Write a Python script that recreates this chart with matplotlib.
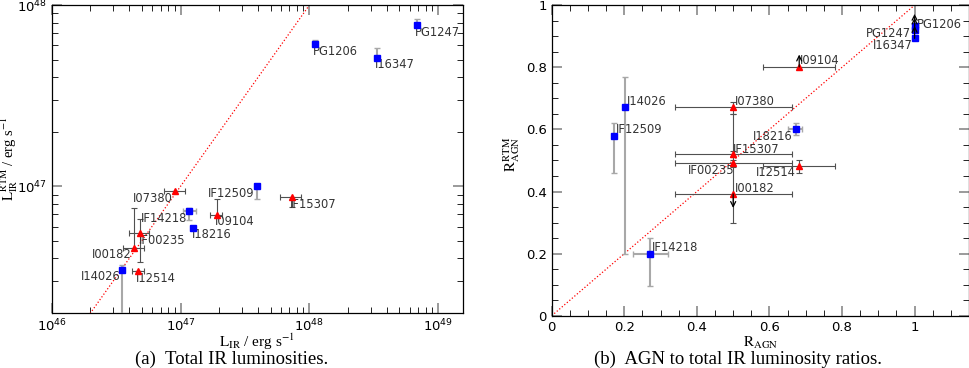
import numpy as np
import matplotlib
matplotlib.use("Agg")
import matplotlib.pyplot as plt
from matplotlib.ticker import LogLocator, MultipleLocator, FuncFormatter

plt.rcParams['mathtext.fontset'] = 'stix'
plt.rcParams['font.family'] = ['DejaVu Sans']

# (a) total IR luminosities, QSO sample (blue squares)
names_qa = ['PG1247', 'PG1206', 'I16347', 'IF12509', 'IF14218', 'I18216', 'I14026']
lir_q = np.array([6.86e48, 1.11e48, 3.35e48, 3.91e47, 1.17e47, 1.26e47, 3.53e46])
lir_q_lo = np.array([6.86e48, 1.11e48, 3.35e48, 3.91e47, 1.05e47, 1.26e47, 3.53e46])
lir_q_hi = np.array([6.86e48, 1.11e48, 3.35e48, 3.91e47, 1.31e47, 1.26e47, 3.53e46])
lrtm_q = np.array([7.76e47, 6.07e47, 5.14e47, 1.0e47, 7.28e46, 5.89e46, 3.47e46])
lrtm_q_lo = np.array([7.76e47, 6.07e47, 5.14e47, 8.47e46, 6.49e46, 5.89e46, 1.5e46])
lrtm_q_hi = np.array([8.34e47, 6.46e47, 5.77e47, 1.02e47, 7.62e46, 5.89e46, 3.66e46])
side_qa = ['l', 'l', 'l', 'r', 'r', 'l', 'r']

# (a) ULIRG sample (red triangles)
names_ua = ['IF15307', 'I07380', 'I09104', 'IF00235', 'I00182', 'I12514']
lir_u = np.array([7.28e47, 9.08e46, 1.91e47, 4.88e46, 4.33e46, 4.66e46])
lir_u_lo = np.array([5.94e47, 7.5e46, 1.69e47, 3.98e46, 3.57e46, 4.2e46])
lir_u_hi = np.array([8.61e47, 1.074e47, 2.11e47, 5.73e46, 5.18e46, 5.18e46])
lrtm_u = np.array([8.73e46, 9.38e46, 6.97e46, 5.52e46, 4.58e46, 3.40e46])
lrtm_u_lo = np.array([7.69e46, 9.38e46, 6.97e46, 3.82e46, 4.58e46, 3.40e46])
lrtm_u_hi = np.array([8.73e46, 9.38e46, 8.47e46, 6.58e46, 7.62e46, 3.40e46])
side_ua = ['l', 'r', 'l', 'l', 'r', 'l']

# (b) AGN fractions, QSO sample
names_qb = ['PG1206', 'PG1247', 'I16347', 'I14026', 'IF12509', 'I18216', 'IF14218']
ragn_q = np.array([1.0, 1.0, 1.0, 0.202, 0.172, 0.672, 0.272])
ragn_q_lo = np.array([1.0, 1.0, 1.0, 0.202, 0.172, 0.651, 0.223])
ragn_q_hi = np.array([1.0, 1.0, 1.0, 0.202, 0.172, 0.690, 0.321])
rrtm_q = np.array([0.932, 0.920, 0.893, 0.671, 0.580, 0.600, 0.199])
rrtm_q_lo = np.array([0.932, 0.920, 0.893, 0.20, 0.46, 0.582, 0.097])
rrtm_q_hi = np.array([0.932, 0.920, 0.893, 0.769, 0.621, 0.621, 0.249])
lim_qb = ['up', 'up', 'up', '', '', '', '']

# (b) ULIRG sample
names_ub = ['I09104', 'I07380', 'IF15307', 'IF00235', 'I12514', 'I00182']
ragn_u = np.array([0.682, 0.5, 0.5, 0.5, 0.682, 0.5])
ragn_u_lo = np.array([0.583, 0.341, 0.341, 0.341, 0.583, 0.341])
ragn_u_hi = np.array([0.782, 0.661, 0.661, 0.661, 0.782, 0.661])
rrtm_u = np.array([0.801, 0.672, 0.520, 0.491, 0.483, 0.392])
rrtm_u_lo = np.array([0.801, 0.651, 0.51, 0.48, 0.458, 0.30])
rrtm_u_hi = np.array([0.801, 0.689, 0.53, 0.50, 0.50, 0.65])
lim_ub = ['up', '', '', '', '', 'down']

# label placement (pixels) for panel b
off_qb = [(2, 2, 'left'), (-4, -4, 'right'), (-2, -7, 'right'), (2, 6, 'left'),
          (2, 6, 'left'), (-3, -7, 'right'), (1, 6, 'left')]
off_ub = [(1, 6, 'left'), (2, 6, 'left'), (0, 5, 'left'), (1, -7, 'right'),
          (-3, -7, 'right'), (2, 5, 'left')]

LIGHT = '#a8a8a8'
DARK = '#505050'


def errs(v, lo, hi):
    return np.vstack([v - lo, hi - v])


def style_ticks(ax):
    ax.tick_params(which='both', direction='in', top=True, right=True, labelsize=9.5)
    ax.tick_params(which='major', length=7, width=1.4, color='#9a9a9a')
    ax.tick_params(which='minor', length=4, width=0.6, color='k')
    for s in ax.spines.values():
        s.set_linewidth(0.9)


fig = plt.figure(figsize=(9.7, 3.68), dpi=100)

# ---- panel (a)
ax1 = fig.add_axes([0.0533, 0.1495, 0.4237, 0.8365])
ax1.set_xscale('log')
ax1.set_yscale('log')
ax1.set_xlim(1e46, 1.55e49)
ax1.set_ylim(2.0e46, 1e48)
ax1.plot([1e46, 1e49], [1e46, 1e49], ':', color='red', lw=0.9)
ax1.errorbar(lir_q, lrtm_q, xerr=errs(lir_q, lir_q_lo, lir_q_hi),
             yerr=errs(lrtm_q, lrtm_q_lo, lrtm_q_hi), fmt='s', color='blue',
             ms=4.5, ecolor=LIGHT, elinewidth=1.5, capsize=2.5, capthick=1.0, zorder=3)
ax1.errorbar(lir_u, lrtm_u, xerr=errs(lir_u, lir_u_lo, lir_u_hi),
             yerr=errs(lrtm_u, lrtm_u_lo, lrtm_u_hi), fmt='^', color='red',
             ms=5, ecolor=DARK, elinewidth=0.8, capsize=2.5, capthick=0.8, zorder=3)
for n, x, y, s in zip(names_qa + names_ua, np.r_[lir_q, lir_u], np.r_[lrtm_q, lrtm_u],
                      side_qa + side_ua):
    ha = 'left' if s == 'l' else 'right'
    ax1.annotate(n, (x, y), xytext=(-2, -7), textcoords='offset pixels',
                 ha=ha, va='center', fontsize=8.3, color='#333333')
ax1.xaxis.set_major_locator(LogLocator(base=10, numticks=10))
ax1.xaxis.set_minor_locator(LogLocator(base=10, subs=np.arange(2, 10), numticks=20))
ax1.yaxis.set_minor_locator(LogLocator(base=10, subs=np.arange(2, 10), numticks=20))
ax1.yaxis.set_minor_formatter(plt.NullFormatter())
style_ticks(ax1)
ax1.set_xlabel(r'$\mathrm{L_{IR}}$ / erg s$^{-1}$', fontfamily='Liberation Serif', fontsize=11)
ax1.set_ylabel(r'$\mathrm{L_{IR}^{RTM}}$ / erg s$^{-1}$', fontfamily='Liberation Serif',
               fontsize=10.5)
ax1.xaxis.set_label_coords(0.5, -0.06)
ax1.yaxis.set_label_coords(-0.078, 0.5)

# ---- panel (b)
ax2 = fig.add_axes([0.5688, 0.142, 0.4302, 0.844])
ax2.set_xlim(0, 1.15)
ax2.set_ylim(0, 1)
ax2.plot([0, 1], [0, 1], ':', color='red', lw=0.9)
ax2.errorbar(ragn_q, rrtm_q, xerr=errs(ragn_q, ragn_q_lo, ragn_q_hi),
             yerr=errs(rrtm_q, rrtm_q_lo, rrtm_q_hi), fmt='s', color='blue',
             ms=4.5, ecolor=LIGHT, elinewidth=1.5, capsize=2.5, capthick=1.0, zorder=3)
ax2.errorbar(ragn_u, rrtm_u, xerr=errs(ragn_u, ragn_u_lo, ragn_u_hi),
             yerr=errs(rrtm_u, rrtm_u_lo, rrtm_u_hi), fmt='^', color='red',
             ms=5, ecolor=DARK, elinewidth=0.8, capsize=2.5, capthick=0.8, zorder=3)
for x, y, lim in zip(np.r_[ragn_q, ragn_u], np.r_[rrtm_q, rrtm_u], lim_qb + lim_ub):
    if lim:
        d = 0.04 if lim == 'up' else -0.045
        ax2.annotate('', xy=(x, y + d), xytext=(x, y),
                     arrowprops=dict(arrowstyle='->', color='k', lw=0.9,
                                     shrinkA=0, shrinkB=0, mutation_scale=9), zorder=4)
for n, x, y, (dx, dy, ha) in zip(names_qb + names_ub, np.r_[ragn_q, ragn_u],
                                 np.r_[rrtm_q, rrtm_u], off_qb + off_ub):
    ax2.annotate(n, (x, y), xytext=(dx, dy), textcoords='offset pixels',
                 ha=ha, va='center', fontsize=8.3, color='#333333')
ax2.xaxis.set_major_locator(MultipleLocator(0.2))
ax2.xaxis.set_minor_locator(MultipleLocator(0.05))
ax2.yaxis.set_major_locator(MultipleLocator(0.2))
ax2.yaxis.set_minor_locator(MultipleLocator(0.05))
fmt = FuncFormatter(lambda v, p: '%g' % round(v, 2))
ax2.xaxis.set_major_formatter(fmt)
ax2.yaxis.set_major_formatter(fmt)
style_ticks(ax2)
ax2.set_xlabel(r'$\mathrm{R_{AGN}}$', fontsize=11)
ax2.set_ylabel(r'$\mathrm{R_{AGN}^{RTM}}$', fontsize=11)
ax2.xaxis.set_label_coords(0.5, -0.062)
ax2.yaxis.set_label_coords(-0.071, 0.52)

fig.text(0.239, 0.024, '(a)  Total IR luminosities.', ha='center', va='center',
         fontfamily='Liberation Serif', fontsize=13.5)
fig.text(0.761, 0.024, '(b)  AGN to total IR luminosity ratios.', ha='center', va='center',
         fontfamily='Liberation Serif', fontsize=13.5)

fig.savefig('out.png', dpi=100)
